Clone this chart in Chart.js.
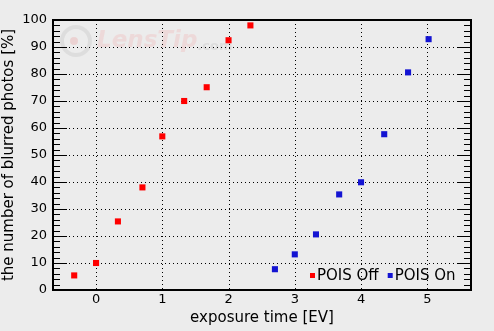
<!DOCTYPE html>
<html>
<head>
<meta charset="utf-8">
<script src="https://cdn.jsdelivr.net/npm/chart.js@4.4.0/dist/chart.umd.min.js"></script>
<style>
  html, body { margin: 0; padding: 0; background: #ececec; }
  #wrap { width: 494px; height: 331px; }
</style>
</head>
<body>
<div id="wrap"><canvas id="chart" width="494" height="331"></canvas></div>
<script>
// data
const offX = [-0.33, 0, 0.33, 0.7, 1, 1.33, 1.67, 2, 2.33];
const offY = [5.4, 10, 25.4, 38, 56.9, 70, 75.1, 92.5, 98];
const onX = [2.7, 3, 3.32, 3.67, 4, 4.35, 4.71, 5.02];
const onY = [7.7, 13.2, 20.6, 35.4, 39.9, 57.7, 80.6, 92.9];
const xTicks = [0, 1, 2, 3, 4, 5];
const yTicks = [0, 10, 20, 30, 40, 50, 60, 70, 80, 90, 100];
const seriesNames = ["POIS Off", "POIS On"];
const seriesColors = ["#ff0000", "#1414d2"];

const FONT = "'DejaVu Sans', Verdana, sans-serif";

function toPoints(xs, ys) {
  return xs.map((x, i) => ({ x: x, y: ys[i] }));
}

// dotted grid, inward ticks on the y axes, frame
const framePlugin = {
  id: "frame",
  beforeDatasetsDraw(chart) {
    const { ctx, chartArea: a, scales } = chart;
    const xs = scales.x, ys = scales.y;
    ctx.save();
    ctx.strokeStyle = "#000";
    ctx.lineWidth = 1;
    ctx.setLineDash([1, 3]);
    xTicks.forEach(v => {
      const px = Math.round(xs.getPixelForValue(v)) + 0.5;
      ctx.beginPath(); ctx.moveTo(px, a.top); ctx.lineTo(px, a.bottom); ctx.stroke();
    });
    yTicks.slice(1, -1).forEach(v => {
      const py = Math.round(ys.getPixelForValue(v)) + 0.5;
      ctx.beginPath(); ctx.moveTo(a.left, py); ctx.lineTo(a.right, py); ctx.stroke();
    });
    ctx.setLineDash([]);
    // minor every 2, major every 10
    for (let v = 0; v <= 100; v += 2) {
      const py = Math.round(ys.getPixelForValue(v)) + 0.5;
      const len = v % 10 === 0 ? 14 : 7;
      ctx.beginPath();
      ctx.moveTo(a.left, py); ctx.lineTo(a.left + len, py);
      ctx.moveTo(a.right, py); ctx.lineTo(a.right - len, py);
      ctx.stroke();
    }
    ctx.lineWidth = 2;
    ctx.strokeRect(a.left, a.top, a.right - a.left, a.bottom - a.top);
    ctx.restore();
  }
};

// faint site watermark
const markPlugin = {
  id: "mark",
  beforeDraw(chart) {
    const { ctx, chartArea: a } = chart;
    ctx.save();
    ctx.strokeStyle = "rgba(215,215,215,0.7)";
    ctx.lineWidth = 4;
    ctx.beginPath(); ctx.arc(a.left + 23, a.top + 21, 14, 0, Math.PI * 2); ctx.stroke();
    ctx.fillStyle = "rgba(235,200,200,0.7)";
    ctx.beginPath(); ctx.arc(a.left + 21, a.top + 21, 4, 0, Math.PI * 2); ctx.fill();
    ctx.font = "italic bold 23px " + FONT;
    ctx.textBaseline = "middle";
    ctx.fillStyle = "rgba(238,212,212,0.8)";
    ctx.fillText("LensTip", a.left + 44, a.top + 21);
    const w = ctx.measureText("LensTip").width;
    ctx.font = "bold 13px " + FONT;
    ctx.fillStyle = "rgba(218,218,218,0.8)";
    ctx.fillText(".com", a.left + 44 + w, a.top + 27);
    ctx.restore();
  }
};

// legend sits inside the plot, bottom right
const legendPlugin = {
  id: "innerLegend",
  afterDatasetsDraw(chart) {
    const { ctx, chartArea: a } = chart;
    ctx.save();
    ctx.font = "15px " + FONT;
    ctx.textBaseline = "middle";
    const y = a.bottom - 15;
    let x = a.left + 257;
    seriesNames.forEach((name, i) => {
      ctx.fillStyle = seriesColors[i];
      ctx.fillRect(x, y - 2, 5, 5);
      ctx.fillStyle = "#000";
      ctx.fillText(name, x + 7, y + 1);
      x += 7 + ctx.measureText(name).width + 9;
    });
    ctx.restore();
  }
};

new Chart(document.getElementById("chart"), {
  type: "scatter",
  data: {
    datasets: [
      { label: seriesNames[0], data: toPoints(offX, offY), backgroundColor: seriesColors[0] },
      { label: seriesNames[1], data: toPoints(onX, onY), backgroundColor: seriesColors[1] }
    ]
  },
  options: {
    responsive: false,
    animation: false,
    layout: { padding: { top: 20, right: 23, left: 0, bottom: 0 } },
    elements: { point: { pointStyle: "rect", radius: 4.3, borderWidth: 0, hoverRadius: 4.3 } },
    plugins: { legend: { display: false }, tooltip: { enabled: false } },
    scales: {
      x: {
        type: "linear",
        min: -0.65,
        max: 5.66,
        afterBuildTicks: s => { s.ticks = xTicks.map(v => ({ value: v })); },
        afterFit: s => { s.height = 41; },
        grid: { display: false, drawTicks: false },
        border: { display: false },
        ticks: { color: "#000", font: { family: FONT, size: 13 }, padding: 2 },
        title: { display: true, text: "exposure time [EV]", color: "#000", font: { family: FONT, size: 15 }, padding: { top: 0, bottom: 4 } }
      },
      y: {
        min: 0,
        max: 100,
        afterBuildTicks: s => { s.ticks = yTicks.map(v => ({ value: v })); },
        afterFit: s => { s.width = 53; },
        grid: { display: false, drawTicks: false },
        border: { display: false },
        ticks: { color: "#000", font: { family: FONT, size: 13 }, padding: 6 },
        title: { display: true, text: "the number of blurred photos [%]", color: "#000", font: { family: FONT, size: 15 }, padding: { top: 0, bottom: 0 } }
      }
    }
  },
  plugins: [markPlugin, framePlugin, legendPlugin]
});
</script>
</body>
</html>
